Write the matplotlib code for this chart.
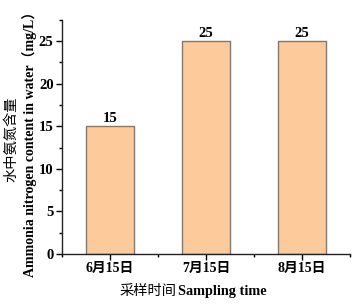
import matplotlib
matplotlib.use("Agg")
import matplotlib.pyplot as plt
from matplotlib.ticker import MultipleLocator

categories = ["6月15日", "7月15日", "8月15日"]
values = [15, 25, 25]

plt.rcParams['font.family'] = ['Liberation Serif', 'Noto Sans CJK SC', 'DejaVu Sans']

fig = plt.figure(figsize=(3.56, 3.07), dpi=100)
ax = fig.add_axes([0.174, 0.173, 0.809, 0.762])

x = list(range(len(categories)))
ax.bar(x, values, width=0.5, color="#FDCA9B", edgecolor="#7a7a7a", linewidth=1.0)
for xi, v in zip(x, values):
    ax.text(xi, v + 0.2, f"{v}", ha="center", va="bottom", fontsize=10.5, fontweight="bold")

ax.set_xlim(-0.5, 2.5)
ax.set_ylim(0, 27.5)
ax.set_xticks(x)
ax.set_xticklabels(categories, fontsize=10, fontweight="bold")
ax.xaxis.set_minor_locator(MultipleLocator(1, offset=0.5))
ax.yaxis.set_major_locator(MultipleLocator(5))
ax.yaxis.set_minor_locator(MultipleLocator(2.5))
for lab in ax.get_yticklabels():
    lab.set_fontweight("bold")
    lab.set_fontsize(10.5)

for s in ["top", "right"]:
    ax.spines[s].set_visible(False)
for s in ["left", "bottom"]:
    ax.spines[s].set_linewidth(1.0)
    ax.spines[s].set_color("#222222")

ax.tick_params(axis="both", which="major", direction="out", length=4, width=1, pad=2)
ax.tick_params(axis="both", which="minor", direction="out", length=2, width=1)

# x label: CJK regular + English bold
fig.text(176 / 356, 1 - 292 / 307, "采样时间", ha="right", va="center", fontsize=10.3)
fig.text(178 / 356, 1 - 292 / 307, "Sampling time", ha="left", va="center",
         fontsize=10.3, fontweight="bold")

# y label: two lines
fig.text(12 / 356, 1 - 139 / 307, "水中氨氮含量", rotation=90, ha="center", va="center",
         fontsize=10.3)
fig.text(29.5 / 356, 1 - 141 / 307, "Ammonia nitrogen content in water（mg/L）",
         rotation=90, ha="center", va="center", fontsize=10.0, fontweight="bold")

fig.savefig("out.png", dpi=100)
